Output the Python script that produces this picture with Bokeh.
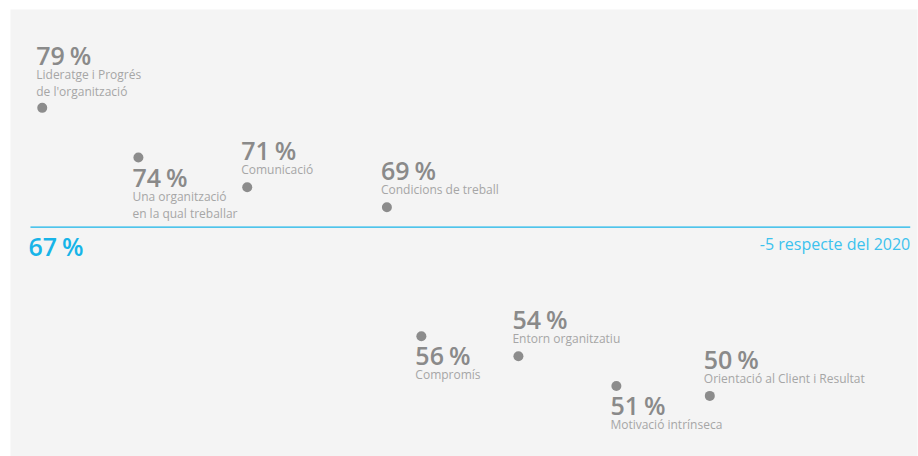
from bokeh.plotting import figure
from bokeh.models import ColumnDataSource, Range1d
from bokeh.core.properties import value
from bokeh.embed import file_html
from bokeh.resources import INLINE

# ---- data ----
categories = [
    "Lideratge i Progrés\nde l'organització",
    "Una organització\nen la qual treballar",
    "Comunicació",
    "Condicions de treball",
    "Compromís",
    "Entorn organitzatiu",
    "Motivació intrínseca",
    "Orientació al Client i Resultat",
]
values = [79, 74, 71, 69, 56, 54, 51, 50]
positions = [3.5, 14.1, 26.1, 41.5, 45.3, 56.0, 66.8, 77.1]
average = 67
change_text = "-5 respecte del 2020"

# ---- layout (label placement) ----
sides = ["above", "below", "above", "above", "below", "above", "below", "above"]

GREY_DOT = "#8c8c8c"
GREY_PCT = "#8a8a8a"
GREY_LBL = "#a6a6a6"
CYAN = "#17b4e8"
CYAN_LIGHT = "#3cc2ee"
FONT = "Open Sans"
FONT_SB = "Open Sans SemiBold"

pct_off, lbl_off = [], []
for cat, side in zip(categories, sides):
    n = cat.count("\n") + 1
    if side == "above":
        b = -(26 + 16 * (n - 1))
    else:
        b = 30
    pct_off.append(b - 11)
    lbl_off.append(b)

src = ColumnDataSource(dict(
    x=positions, y=values, cat=categories,
    pct=[f"{v}\u2009%" for v in values],
    pct_off=pct_off, lbl_off=lbl_off,
))

p = figure(width=918, height=456, output_backend="svg", toolbar_location=None,
           x_axis_location=None, y_axis_location=None,
           x_range=Range1d(0, 100), y_range=Range1d(43.9, 88.9),
           min_border_left=10, min_border_right=1, min_border_top=9, min_border_bottom=0,
           background_fill_color="#f4f4f4", border_fill_color="white",
           outline_line_color=None)
p.grid.visible = False

# average line
p.segment(x0=[2.2], x1=[99.2], y0=[average], y1=[average], line_color=CYAN, line_width=1.2)
p.text(x=[2.2], y=[average], text=[f"{average}\u2009%"], text_font=value(FONT_SB),
       text_font_size="25px", text_color=CYAN,
       text_baseline="alphabetic", text_align="left", x_offset=-2, y_offset=19)
p.text(x=[99.2], y=[average], text=[change_text], text_font=value(FONT),
       text_font_size="16px", text_color=CYAN_LIGHT,
       text_baseline="alphabetic", text_align="right", y_offset=17)

# dots
p.scatter(x="x", y="y", source=src, size=10, color=GREY_DOT, line_color=None)

# percent labels
p.text(x="x", y="y", text="pct", source=src, text_font=value(FONT_SB),
       text_font_size="25px", text_color=GREY_PCT,
       text_baseline="alphabetic", text_align="left", x_offset=-6, y_offset="pct_off")

# category labels
p.text(x="x", y="y", text="cat", source=src, text_font=value(FONT),
       text_font_size="12px", text_color=GREY_LBL, text_line_height=1.0,
       text_baseline="top", text_align="left", x_offset=-6, y_offset="lbl_off")

open("out.html", "w").write(file_html(p, INLINE))
